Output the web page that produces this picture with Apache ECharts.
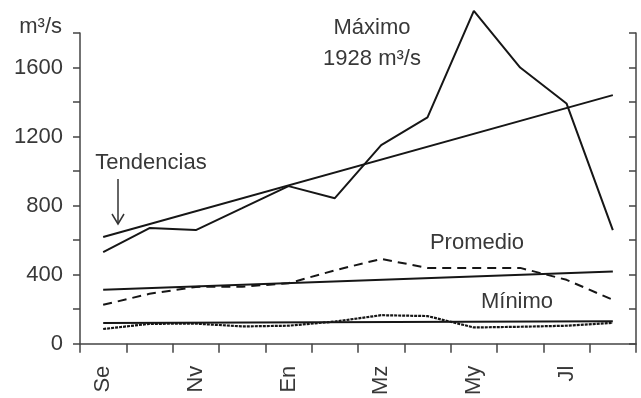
<!DOCTYPE html>
<html>
<head>
<meta charset="utf-8">
<script src="https://cdn.jsdelivr.net/npm/echarts@6/dist/echarts.min.js"></script>
<style>
  html, body { margin: 0; padding: 0; background: #fff; }
  #chart { width: 641px; height: 398px; }
</style>
</head>
<body>
<div id="chart"></div>
<script>
// Months of the hydrological year (September to August)
const months = ['Se', 'Oc', 'Nv', 'Di', 'En', 'Fb', 'Mz', 'Ab', 'My', 'Jn', 'Jl', 'Ag'];

// Monthly discharge, m³/s
const maximo   = [530, 670, 658, 785, 913, 843, 1150, 1311, 1928, 1600, 1392, 658];
const promedio = [225, 289, 329, 330, 350, 425, 491, 439, 439, 439, 370, 254];
const minimo   = [85, 115, 116, 100, 104, 128, 165, 160, 94, 98, 104, 121];

// Linear trend end values (September, August)
const trendMaximo   = [618, 1440];
const trendPromedio = [312, 418];
const trendMinimo   = [120, 130];

const yTicks = [0, 400, 800, 1200, 1600];

const FONT = '"Liberation Sans", Arial, sans-serif';
const INK = '#161616';
const TXT = '#383838';
const FS = 22;

function trendSeries(ends) {
  const d = months.map(() => null);
  d[0] = ends[0];
  d[d.length - 1] = ends[1];
  return d;
}

function lineSeries(name, data, type, width) {
  return {
    name: name,
    type: 'line',
    data: data,
    symbol: 'none',
    connectNulls: true,
    clip: false,
    silent: true,
    lineStyle: { color: INK, width: width, type: type }
  };
}

const chart = echarts.init(document.getElementById('chart'), null, { renderer: 'canvas' });

chart.setOption({
  animation: false,
  backgroundColor: '#fff',
  grid: { left: 80, right: 5, top: 33, bottom: 54 },
  xAxis: {
    type: 'category',
    data: months,
    boundaryGap: true,
    axisLine: { lineStyle: { color: '#444', width: 1.5 } },
    axisTick: { show: true, interval: 0, length: 9, lineStyle: { color: '#444', width: 1.5 } },
    axisLabel: {
      interval: 1,
      rotate: 90,
      margin: 22,
      color: TXT,
      fontFamily: FONT,
      fontSize: FS
    },
    splitLine: { show: false }
  },
  yAxis: [
    {
      type: 'value',
      min: 0,
      max: 1800,
      interval: 200,
      axisLine: { show: true, lineStyle: { color: '#444', width: 1.5 } },
      axisTick: { show: true, length: 7, lineStyle: { color: '#444', width: 1.5 } },
      axisLabel: {
        margin: 17,
        color: TXT,
        fontFamily: FONT,
        fontSize: FS,
        formatter: v => (yTicks.indexOf(v) >= 0 ? String(v) : '')
      },
      splitLine: { show: false }
    },
    {
      type: 'value',
      position: 'right',
      min: 0,
      max: 1800,
      interval: 200,
      axisLine: { show: true, lineStyle: { color: '#444', width: 1.5 } },
      axisTick: { show: true, inside: true, length: 7, lineStyle: { color: '#444', width: 1.5 } },
      axisLabel: { show: false },
      splitLine: { show: false }
    }
  ],
  series: [
    lineSeries('Máximo', maximo, 'solid', 2),
    lineSeries('Promedio', promedio, [9, 6], 2),
    lineSeries('Mínimo', minimo, [3, 1], 2.2),
    lineSeries('Tendencia máximo', trendSeries(trendMaximo), 'solid', 2),
    lineSeries('Tendencia promedio', trendSeries(trendPromedio), 'solid', 2),
    lineSeries('Tendencia mínimo', trendSeries(trendMinimo), 'solid', 2)
  ],
  graphic: [
    { type: 'text', x: 62, y: 27,
      style: { text: 'm³/s', fill: TXT, font: FS + 'px ' + FONT, align: 'right', verticalAlign: 'middle' } },
    { type: 'text', x: 372, y: 28,
      style: { text: 'Máximo', fill: TXT, font: FS + 'px ' + FONT, align: 'center', verticalAlign: 'middle' } },
    { type: 'text', x: 372, y: 59,
      style: { text: Math.max(...maximo) + ' m³/s', fill: TXT, font: FS + 'px ' + FONT, align: 'center', verticalAlign: 'middle' } },
    { type: 'text', x: 477, y: 243,
      style: { text: 'Promedio', fill: TXT, font: FS + 'px ' + FONT, align: 'center', verticalAlign: 'middle' } },
    { type: 'text', x: 517, y: 302,
      style: { text: 'Mínimo', fill: TXT, font: FS + 'px ' + FONT, align: 'center', verticalAlign: 'middle' } },
    { type: 'text', x: 151, y: 163,
      style: { text: 'Tendencias', fill: TXT, font: FS + 'px ' + FONT, align: 'center', verticalAlign: 'middle' } },
    // Arrow pointing at the trend lines
    { type: 'line', shape: { x1: 118, y1: 179, x2: 118, y2: 223 },
      style: { stroke: '#333', lineWidth: 1.5 } },
    { type: 'polyline', shape: { points: [[112, 214], [118, 224], [124, 214]] },
      style: { stroke: '#333', lineWidth: 1.5, fill: null } }
  ]
});
</script>
</body>
</html>
